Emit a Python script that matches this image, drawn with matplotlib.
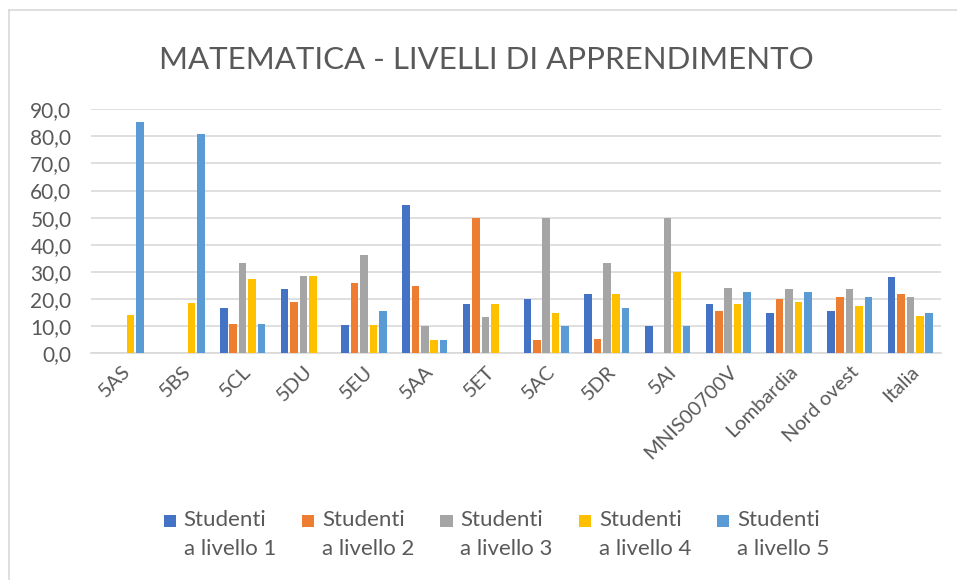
import numpy as np
import matplotlib
matplotlib.use("Agg")
import matplotlib.pyplot as plt
from matplotlib.patches import Rectangle
from matplotlib.lines import Line2D
from matplotlib.container import BarContainer
from matplotlib.legend_handler import HandlerPatch, update_from_first_child

plt.rcParams['font.family'] = ['Lato', 'DejaVu Sans']

categories = ['5AS', '5BS', '5CL', '5DU', '5EU', '5AA', '5ET', '5AC', '5DR', '5AI',
              'MNIS00700V', 'Lombardia', 'Nord ovest', 'Italia']

livello1 = [0, 0, 16.6, 23.6, 10.4, 54.8, 18.1, 19.9, 21.8, 10.0, 18.1, 14.8, 15.6, 28.0]
livello2 = [0, 0, 10.9, 18.9, 26.0, 24.7, 50.0, 4.8, 5.3, 0, 15.6, 19.9, 20.9, 21.8]
livello3 = [0, 0, 33.2, 28.4, 36.4, 9.9, 13.3, 50.0, 33.2, 50.0, 24.2, 23.7, 23.7, 20.9]
livello4 = [14.2, 18.4, 27.4, 28.4, 10.4, 4.8, 18.1, 14.8, 21.8, 29.9, 18.1, 18.9, 17.6, 13.8]
livello5 = [85.4, 80.8, 10.9, 0, 15.6, 4.8, 0, 9.9, 16.6, 10.0, 22.7, 22.7, 20.9, 14.8]

series = [livello1, livello2, livello3, livello4, livello5]
labels = ['Studenti\na livello 1', 'Studenti\na livello 2', 'Studenti\na livello 3',
          'Studenti\na livello 4', 'Studenti\na livello 5']
colors = ['#4472C4', '#ED7D31', '#A5A5A5', '#FFC000', '#5B9BD5']
text_grey = '#595959'

fig = plt.figure(figsize=(9.57, 5.8), dpi=100)
ax = fig.add_axes([0.095, 0.391, 0.888, 0.4207])

x = np.arange(len(categories))
step = 0.155
width = 0.125
for i, (vals, lab, col) in enumerate(zip(series, labels, colors)):
    ax.bar(x + (i - 2) * step, vals, width, color=col, label=lab, zorder=3)

ax.set_xlim(-0.5, len(categories) - 0.5)
ax.set_ylim(0, 90)
ax.set_yticks(np.arange(0, 91, 10))
ax.set_yticklabels([f'{v:.1f}'.replace('.', ',') for v in np.arange(0, 91, 10)])
ax.set_xticks(x)
ax.set_xticklabels(categories, rotation=45, ha='right', rotation_mode='anchor')
ax.grid(axis='y', color='#d9d9d9', linewidth=1.2, zorder=0)
ax.set_axisbelow(True)
for s in ['top', 'right', 'left']:
    ax.spines[s].set_visible(False)
ax.spines['bottom'].set_color('#d9d9d9')
ax.spines['bottom'].set_linewidth(1.2)
ax.tick_params(axis='both', length=0, labelcolor=text_grey)
ax.tick_params(axis='y', pad=14, labelsize=15)
ax.tick_params(axis='x', pad=7, labelsize=14.5)

fig.text(0.508, 0.896, 'MATEMATICA - LIVELLI DI APPRENDIMENTO', ha='center', va='center',
         fontsize=22.5, color=text_grey)


# legend square sits next to the first line of the two-line label
def top_square(legend, orig_handle, xdescent, ydescent, width, height, fontsize):
    s = 0.55 * fontsize
    return Rectangle((-xdescent, -ydescent + height - s + 2), s, s)


leg = fig.legend(loc='center', bbox_to_anchor=(0.519, 0.079), ncol=5, frameon=False,
                 fontsize=16, handlelength=0.55, handleheight=2.1, handletextpad=0.35,
                 columnspacing=1.17, labelcolor=text_grey,
                 handler_map={BarContainer: HandlerPatch(patch_func=top_square,
                                                         update_func=update_from_first_child)})
for t in leg.get_texts():
    t.set_linespacing(1.55)

# chart border (left and top edges visible in the crop)
fig.add_artist(Line2D([8.5 / 957, 8.5 / 957], [0, 1 - 9.5 / 580], transform=fig.transFigure,
                      color='#d9d9d9', linewidth=1.2))
fig.add_artist(Line2D([8.5 / 957, 1], [1 - 9.5 / 580, 1 - 9.5 / 580], transform=fig.transFigure,
                      color='#d9d9d9', linewidth=1.2))

fig.savefig('out.png', dpi=100)
